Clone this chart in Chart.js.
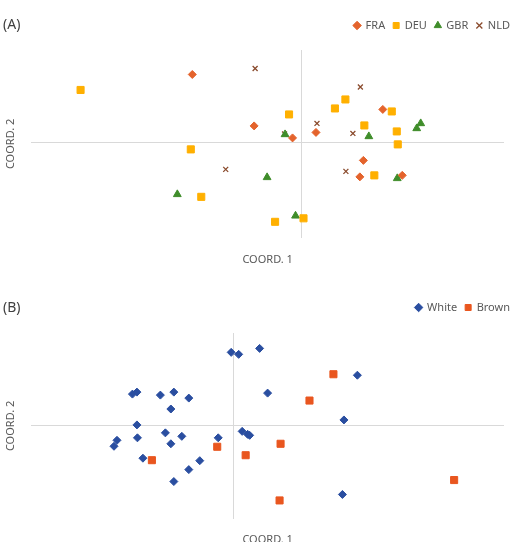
<!DOCTYPE html>
<html>
<head>
<meta charset="utf-8">
<script src="https://cdn.jsdelivr.net/npm/chart.js@4/dist/chart.umd.min.js"></script>
<style>
  body { margin: 0; background: #fff; font-family: "Noto Sans", sans-serif; }
  .panel { position: absolute; left: 0; width: 515px; }
  .tag { position: absolute; left: 3px; font-size: 14px; color: #404040; }
</style>
</head>
<body>
<div class="panel" style="top:0;height:270px"><canvas id="chartA"></canvas></div>
<div class="tag" style="top:14px">(A)</div>
<div class="panel" style="top:270px;height:272px"><canvas id="chartB"></canvas></div>
<div class="tag" style="top:297px">(B)</div>
<script>
// panel A: countries
const fraX = [-2.19, -0.95, -0.18, 0.29, 1.63, 1.24, 1.17, 2.02];
const fraY = [1.37, 0.34, 0.10, 0.21, 0.67, -0.35, -0.68, -0.65];
const deuX = [-4.43, -0.25, 0.67, 0.88, 1.81, 1.26, 1.91, 1.93, -2.22, -2.01, 1.46, -0.53, 0.04];
const deuY = [1.06, 0.57, 0.69, 0.87, 0.63, 0.35, 0.23, -0.03, -0.13, -1.08, -0.65, -1.58, -1.51];
const gbrX = [-0.33, 1.35, 2.31, 2.39, 1.92, -0.69, -2.49, -0.12];
const gbrY = [0.17, 0.13, 0.29, 0.39, -0.71, -0.69, -1.03, -1.46];
const nldX = [-0.93, 1.18, 0.31, -0.34, 1.03, -1.52, 0.89];
const nldY = [1.49, 1.12, 0.39, 0.18, 0.19, -0.53, -0.57];

// panel B: colour
const whiteX = [-0.04, 0.11, 0.53, 2.49, 0.69, 2.22, -2.02, -1.93, -1.46, -1.19, -0.89, -1.25, -1.93, -2.33,
  -2.39, -1.92, -1.36, -1.03, -1.25, -0.30, 0.18, 0.29, 0.33, -1.81, -0.67, -0.89, -1.19, 2.19];
const whiteY = [1.47, 1.43, 1.55, 1.01, 0.65, 0.11, 0.63, 0.67, 0.61, 0.67, 0.55, 0.33, 0.01, -0.30,
  -0.42, -0.25, -0.15, -0.22, -0.37, -0.25, -0.12, -0.18, -0.20, -0.66, -0.71, -0.89, -1.13, -1.39];
const brownX = [2.01, 1.53, 0.95, 0.25, -0.32, -1.63, 0.93, 4.43];
const brownY = [1.03, 0.50, -0.37, -0.60, -0.43, -0.70, -1.51, -1.10];

const txt = '#595959';
Chart.defaults.font.family = '"Noto Sans", sans-serif';
Chart.defaults.color = txt;

function pts(xs, ys) {
  return xs.map((x, i) => ({ x: x, y: ys[i] }));
}

function set(label, xs, ys, color, style, radius) {
  return {
    label: label,
    data: pts(xs, ys),
    pointStyle: style,
    pointRadius: radius,
    pointHoverRadius: radius,
    backgroundColor: color,
    borderColor: color,
    borderWidth: style === 'crossRot' ? 1.3 : 1
  };
}

function zeroAxis(min, max, title, titlePad) {
  return {
    min: min,
    max: max,
    afterBuildTicks: axis => { axis.ticks = [{ value: 0 }]; },
    ticks: { display: false },
    border: { display: false },
    grid: { color: '#d9d9d9', lineWidth: 1, drawTicks: false },
    title: { display: true, text: title, color: txt, font: { size: 11 }, padding: titlePad }
  };
}

// empty axis used only to keep some room beside the plot
function spacer(axisId, pos, size) {
  return {
    axis: axisId,
    position: pos,
    display: true,
    ticks: { display: false },
    grid: { display: false },
    border: { display: false },
    afterFit: s => {
      if (pos === 'top') s.height = size; else s.width = size;
    }
  };
}

function opts(xmin, xmax, ymin, ymax, pad, topGap, xPad) {
  return {
    responsive: true,
    maintainAspectRatio: false,
    animation: false,
    layout: { padding: pad },
    plugins: {
      legend: {
        position: 'top',
        align: 'end',
        labels: { usePointStyle: true, boxWidth: 6, boxHeight: 6, padding: 8, color: txt, font: { size: 11 } }
      },
      tooltip: { enabled: false }
    },
    scales: {
      x: zeroAxis(xmin, xmax, 'COORD. 1', { top: xPad }),
      y: zeroAxis(ymin, ymax, 'COORD. 2', { bottom: 14 }),
      xTop: spacer('x', 'top', topGap),
      yRight: spacer('y', 'right', 14)
    }
  };
}

new Chart(document.getElementById('chartA'), {
  type: 'scatter',
  data: {
    datasets: [
      set('FRA', fraX, fraY, '#e4632c', 'rectRot', 4),
      set('DEU', deuX, deuY, '#ffb000', 'rect', 5),
      set('GBR', gbrX, gbrY, '#3f8d2a', 'triangle', 4.5),
      set('NLD', nldX, nldY, '#8a4b2d', 'crossRot', 3.5)
    ]
  },
  options: opts(-5.42, 4.06, -1.9, 1.86, { top: 12, right: -3, bottom: 0, left: 0 }, 9, 15)
});

new Chart(document.getElementById('chartB'), {
  type: 'scatter',
  data: {
    datasets: [
      set('White', whiteX, whiteY, '#2a4ea0', 'rectRot', 4),
      set('Brown', brownX, brownY, '#e9561f', 'rect', 5)
    ]
  },
  options: opts(-4.05, 5.43, -1.88, 1.86, { top: 24, right: -3, bottom: -8, left: 0 }, 10, 14)
});
</script>
</body>
</html>
